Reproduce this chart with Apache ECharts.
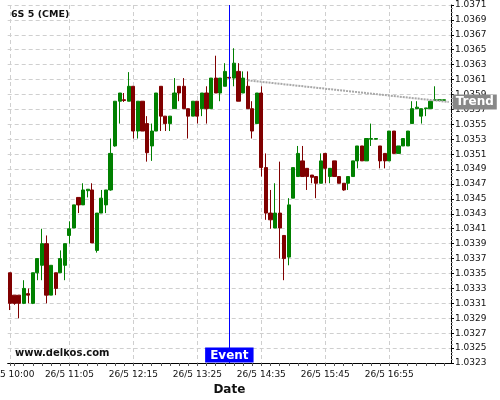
<!DOCTYPE html>
<html>
<head>
<meta charset="utf-8">
<script src="https://cdn.jsdelivr.net/npm/echarts@6/dist/echarts.min.js"></script>
<style>html,body{margin:0;padding:0;background:#fff}#c{width:500px;height:400px}</style>
</head>
<body>
<div id="c"></div>
<script>
var categories = ['26/5 10:00','26/5 10:05','26/5 10:10','26/5 10:15','26/5 10:20','26/5 10:25','26/5 10:30','26/5 10:35','26/5 10:40','26/5 10:45','26/5 10:50','26/5 10:55',
'26/5 11:00','26/5 11:05','26/5 11:10','26/5 11:15','26/5 11:20','26/5 11:25','26/5 11:30','26/5 11:35','26/5 11:40','26/5 11:45','26/5 11:50','26/5 11:55',
'26/5 12:00','26/5 12:05','26/5 12:10','26/5 12:15','26/5 12:20','26/5 12:25','26/5 12:30','26/5 12:35','26/5 12:40','26/5 12:45','26/5 12:50','26/5 12:55',
'26/5 13:00','26/5 13:05','26/5 13:10','26/5 13:15','26/5 13:20','26/5 13:25','26/5 13:30','26/5 13:35','26/5 13:40','26/5 13:45','26/5 13:50','26/5 13:55',
'26/5 14:00','26/5 14:05','26/5 14:10','26/5 14:15','26/5 14:20','26/5 14:25','26/5 14:30','26/5 14:35','26/5 14:40','26/5 14:45','26/5 14:50','26/5 14:55',
'26/5 15:00','26/5 15:05','26/5 15:10','26/5 15:15','26/5 15:20','26/5 15:25','26/5 15:30','26/5 15:35','26/5 15:40','26/5 15:45','26/5 15:50','26/5 15:55',
'26/5 16:00','26/5 16:05','26/5 16:10','26/5 16:15','26/5 16:20','26/5 16:25','26/5 16:30','26/5 16:35','26/5 16:40','26/5 16:45','26/5 16:50','26/5 16:55',
'26/5 17:00','26/5 17:05','26/5 17:10','26/5 17:15','26/5 17:20','26/5 17:25','26/5 17:30','26/5 17:35','26/5 17:40','26/5 17:45','26/5 17:50','26/5 17:55',
'26/5 18:00'];

var tickLabels = ['26/5 10:00','26/5 11:05','26/5 12:15','26/5 13:25','26/5 14:35','26/5 15:45','26/5 16:55'];

var opens = [1.03351,1.03321,1.03321,1.03310,1.03323,1.03310,1.03351,1.03361,1.03390,1.03321,1.03351,1.03351,1.03361,1.03401,1.03411,1.03452,1.03442,1.03461,1.03462,1.03381,
1.03431,1.03442,1.03462,1.03521,1.03581,1.03583,1.03581,1.03601,1.03541,1.03581,1.03551,1.03521,1.03541,1.03601,1.03561,1.03551,1.03571,1.03601,1.03601,1.03571,
1.03561,1.03581,1.03571,1.03592,1.03571,1.03612,1.03592,1.03601,1.03613,1.03612,1.03621,1.03592,1.03601,1.03571,1.03551,1.03592,1.03492,1.03431,1.03411,1.03431,
1.03401,1.03372,1.03451,1.03480,1.03501,1.03491,1.03482,1.03480,1.03471,1.03511,1.03480,1.03501,1.03480,1.03471,1.03471,1.03480,1.03501,1.03521,1.03501,1.03530,
1.03530,1.03521,1.03511,1.03501,1.03541,1.03511,1.03521,1.03521,1.03551,1.03571,1.03561,1.03571,1.03571,1.03582,1.03582,1.03582];
var closes = [1.03310,1.03310,1.03310,1.03330,1.03321,1.03351,1.03370,1.03390,1.03321,1.03361,1.03330,1.03370,1.03390,1.03410,1.03442,1.03442,1.03462,1.03463,1.03391,1.03431,
1.03451,1.03462,1.03511,1.03581,1.03592,1.03582,1.03601,1.03541,1.03581,1.03541,1.03512,1.03541,1.03592,1.03561,1.03551,1.03561,1.03592,1.03592,1.03571,1.03561,
1.03581,1.03561,1.03592,1.03571,1.03612,1.03592,1.03612,1.03621,1.03612,1.03632,1.03581,1.03612,1.03571,1.03541,1.03592,1.03492,1.03431,1.03422,1.03431,1.03411,
1.03370,1.03442,1.03492,1.03511,1.03480,1.03480,1.03479,1.03471,1.03501,1.03491,1.03491,1.03480,1.03471,1.03462,1.03480,1.03501,1.03521,1.03501,1.03531,1.03531,
1.03531,1.03501,1.03501,1.03541,1.03511,1.03521,1.03531,1.03541,1.03571,1.03573,1.03571,1.03572,1.03581,1.03583,1.03583,1.03583];
var lows = [1.03301,1.03308,1.03290,1.03309,1.03310,1.03309,1.03341,1.03341,1.03310,1.03321,1.03321,1.03351,1.03341,1.03390,1.03411,1.03431,1.03442,1.03452,1.03391,1.03378,
1.03431,1.03431,1.03461,1.03520,1.03551,1.03580,1.03581,1.03531,1.03531,1.03541,1.03500,1.03501,1.03541,1.03541,1.03541,1.03541,1.03571,1.03581,1.03571,1.03531,
1.03561,1.03551,1.03561,1.03551,1.03571,1.03592,1.03581,1.03601,1.03612,1.03601,1.03581,1.03592,1.03571,1.03531,1.03551,1.03480,1.03422,1.03410,1.03411,1.03370,
1.03341,1.03361,1.03451,1.03480,1.03480,1.03462,1.03471,1.03451,1.03471,1.03471,1.03471,1.03480,1.03471,1.03461,1.03462,1.03480,1.03491,1.03501,1.03501,1.03521,
1.03530,1.03491,1.03491,1.03501,1.03511,1.03511,1.03521,1.03521,1.03551,1.03571,1.03551,1.03561,1.03571,1.03582,1.03582,1.03582];
var highs = [1.03351,1.03321,1.03321,1.03341,1.03330,1.03351,1.03370,1.03410,1.03401,1.03361,1.03351,1.03381,1.03390,1.03420,1.03442,1.03452,1.03471,1.03463,1.03471,1.03431,
1.03462,1.03462,1.03531,1.03581,1.03592,1.03592,1.03620,1.03601,1.03581,1.03581,1.03561,1.03551,1.03592,1.03601,1.03561,1.03561,1.03612,1.03601,1.03612,1.03571,
1.03581,1.03581,1.03592,1.03601,1.03612,1.03642,1.03612,1.03632,1.03613,1.03652,1.03632,1.03621,1.03621,1.03581,1.03592,1.03601,1.03511,1.03462,1.03471,1.03500,
1.03401,1.03451,1.03492,1.03521,1.03521,1.03491,1.03482,1.03480,1.03511,1.03511,1.03491,1.03501,1.03480,1.03471,1.03480,1.03501,1.03521,1.03521,1.03531,1.03551,
1.03531,1.03521,1.03511,1.03541,1.03541,1.03521,1.03531,1.03541,1.03581,1.03581,1.03571,1.03572,1.03581,1.03601,1.03583,1.03583];

var eventCategory = '26/5 14:00';
var trendCategories = ['26/5 14:20', '26/5 18:00'];
var trendValues = [1.03609, 1.03580];
var yMin = 1.0323, yMax = 1.0371, yStep = 0.0002;

var candleData = opens.map(function (o, i) { return [o, closes[i], lows[i], highs[i]]; });
var trendData = trendCategories.map(function (c, i) { return [c, trendValues[i]]; });
var labelIdx = tickLabels.map(function (t) { return categories.indexOf(t); });

var FONT = 'DejaVu Sans';
var chart = echarts.init(document.getElementById('c'), null, { renderer: 'canvas' });
chart.setOption({
  animation: false,
  backgroundColor: '#fff',
  title: {
    text: '6S 5 (CME)', left: 11, top: 10, padding: 0,
    textStyle: { fontSize: 9.5, fontWeight: 'bold', color: '#111', fontFamily: FONT }
  },
  grid: { left: 7.7, right: 49, top: 5, bottom: 37, containLabel: false, outerBoundsMode: 'none' },
  xAxis: {
    type: 'category',
    data: categories,
    boundaryGap: true,
    name: 'Date',
    nameLocation: 'middle',
    nameGap: 19,
    nameTextStyle: { fontSize: 12, fontWeight: 'bold', color: '#111', fontFamily: FONT },
    axisLine: { show: true, lineStyle: { color: '#000', width: 1 } },
    axisTick: { show: true, alignWithLabel: true, length: 3, lineStyle: { color: '#555' },
      interval: function (i) { return i === 0 || i % 2 === 1; } },
    axisLabel: { show: true, margin: 7, fontSize: 9, color: '#111', fontFamily: FONT, hideOverlap: false,
      interval: function (i) { return labelIdx.indexOf(i) >= 0; } },
    splitLine: { show: true, alignWithLabel: true, lineStyle: { color: '#cfcfcf', type: [4, 3], width: 1 },
      interval: function (i) { return labelIdx.indexOf(i) >= 0; } }
  },
  yAxis: {
    type: 'value',
    position: 'right',
    min: yMin, max: yMax, interval: yStep,
    scale: true,
    axisLine: { show: true, lineStyle: { color: '#000', width: 1 } },
    axisTick: { show: true, length: 3, lineStyle: { color: '#000' } },
    minorTick: { show: true, splitNumber: 4, length: 2, lineStyle: { color: '#999' } },
    axisLabel: { margin: 4, fontSize: 9, color: '#111', fontFamily: FONT,
      formatter: function (v) { return v.toFixed(4); } },
    splitLine: { show: true, lineStyle: { color: '#cfcfcf', type: [4, 3], width: 1 } }
  },
  graphic: [{
    type: 'text', left: 15, top: 348,
    style: { text: 'www.delkos.com', font: 'bold 10px "DejaVu Sans"', fill: '#111' }
  }],
  series: [{
    type: 'candlestick',
    data: candleData,
    barWidth: '80%',
    itemStyle: { color: '#008000', color0: '#800000', borderColor: '#008000', borderColor0: '#800000', borderWidth: 1 },
    markLine: {
      silent: true, symbol: ['none', 'none'],
      label: { show: false },
      lineStyle: { color: '#0000ff', width: 1, type: 'solid' },
      data: [{ xAxis: eventCategory }]
    },
    markPoint: {
      silent: true,
      symbol: 'rect', symbolSize: 1,
      itemStyle: { color: 'rgba(0,0,0,0)' },
      label: { show: true, position: 'top', distance: 0, formatter: 'Event', color: '#fff',
        fontWeight: 'bold', fontSize: 12, fontFamily: FONT, backgroundColor: '#0000ff', padding: [2, 5, 1, 5] },
      data: [{ coord: [eventCategory, yMin] }]
    }
  }, {
    type: 'line',
    data: trendData,
    symbol: 'none',
    silent: true,
    lineStyle: { color: '#a8a8a8', width: 2, type: [2, 1] },
    endLabel: { show: true, formatter: 'Trend', color: '#fff', fontWeight: 'bold', fontSize: 12,
      fontFamily: FONT, backgroundColor: '#888', padding: [2, 3, 1, 3], distance: 4 }
  }]
});
</script>
</body>
</html>
